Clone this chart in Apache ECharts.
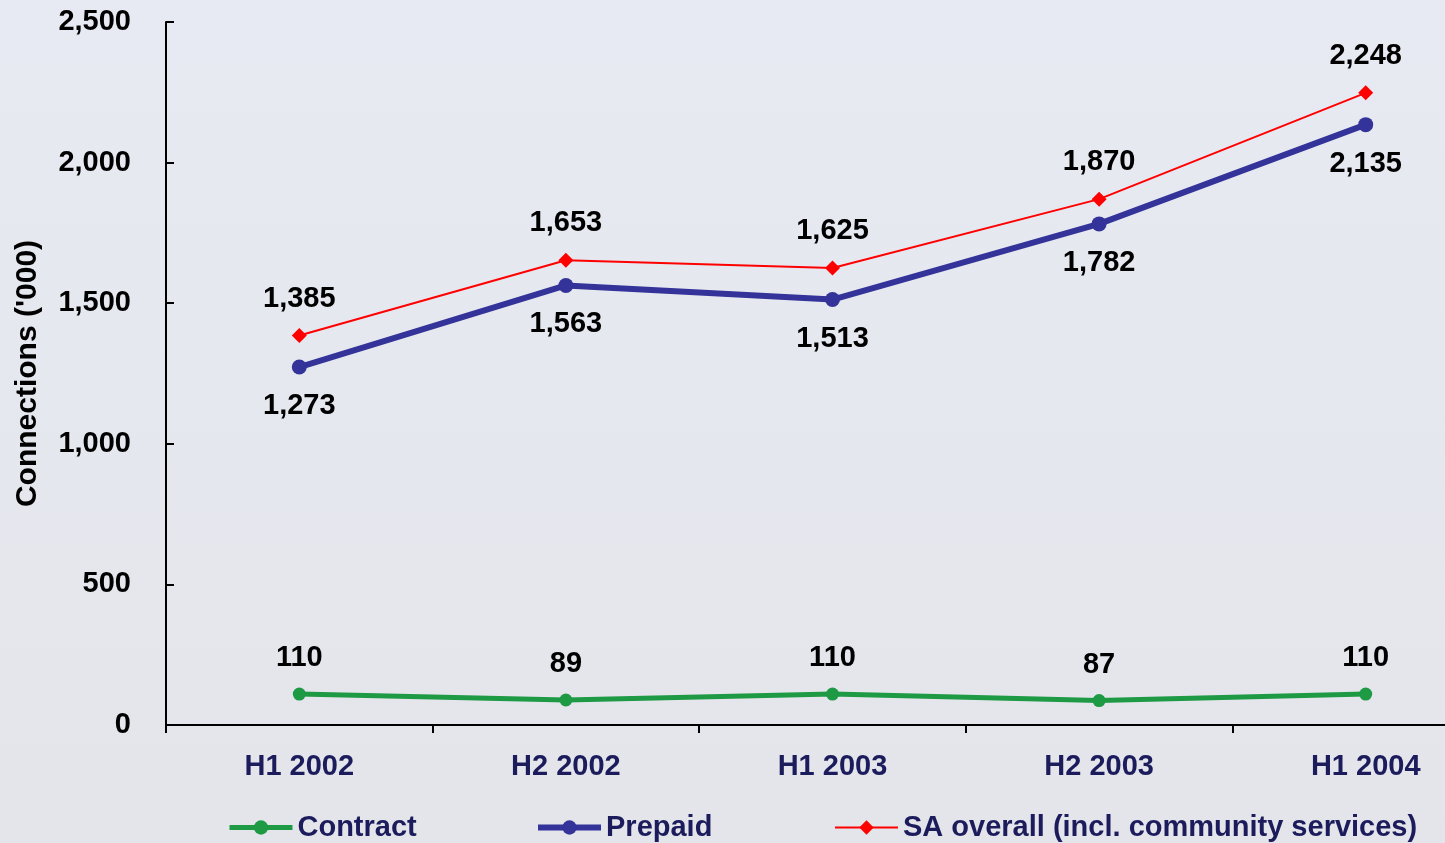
<!DOCTYPE html>
<html>
<head>
<meta charset="utf-8">
<script src="https://cdn.jsdelivr.net/npm/echarts@6/dist/echarts.min.js"></script>
<style>
html,body{margin:0;padding:0;background:#e6e8ef;}
#chart{width:1445px;height:843px;}
</style>
</head>
<body>
<div id="chart"></div>
<script>
const categories = ['H1 2002', 'H2 2002', 'H1 2003', 'H2 2003', 'H1 2004'];
const contract = [110, 89, 110, 87, 110];
const prepaid = [1273, 1563, 1513, 1782, 2135];
const saOverall = [1385, 1653, 1625, 1870, 2248];
const yTicks = { min: 0, max: 2500, interval: 500 };

const FONT = '"Liberation Sans", Arial, sans-serif';
const NAVY = '#1c1c5c';
const GREEN = '#1e9944', BLUE = '#333399', RED = '#ff0000';
const chart = echarts.init(document.getElementById('chart'));
const labelStyle = { show: true, fontSize: 29, fontWeight: 'bold', color: '#000', fontFamily: FONT,
  formatter: p => p.value.toLocaleString('en-US') };
const legendBase = { top: 808, itemWidth: 63, itemHeight: 18, itemGap: 6,
  textStyle: { fontSize: 29, fontWeight: 'bold', color: NAVY, fontFamily: FONT } };

chart.setOption({
  backgroundColor: {
    type: 'linear', x: 0, y: 0, x2: 0, y2: 1,
    colorStops: [{ offset: 0, color: '#e8eaf3' }, { offset: 1, color: '#e3e5ea' }]
  },
  textStyle: { fontFamily: FONT },
  animation: false,
  grid: { left: 166, right: -54, top: 22, bottom: 118, containLabel: false, outerBoundsMode: 'none' },
  legend: [
    Object.assign({ left: 222, data: [{ name: 'Contract', lineStyle: { width: 5, color: GREEN } }] }, legendBase),
    Object.assign({ left: 530, data: [{ name: 'Prepaid', lineStyle: { width: 6, color: BLUE } }] }, legendBase),
    Object.assign({ left: 829, data: [{ name: 'SA overall (incl. community services)', lineStyle: { width: 2, color: RED } }] }, legendBase)
  ],
  xAxis: {
    type: 'category', data: categories, boundaryGap: true,
    axisLine: { lineStyle: { color: '#000', width: 2 } },
    axisTick: { show: true, length: 8, inside: false, lineStyle: { color: '#000', width: 2 } },
    axisLabel: { fontSize: 29, fontWeight: 'bold', color: NAVY, margin: 27, fontFamily: FONT }
  },
  yAxis: {
    type: 'value', min: yTicks.min, max: yTicks.max, interval: yTicks.interval,
    name: "Connections ('000)", nameLocation: 'middle', nameGap: 123,
    nameTextStyle: { fontSize: 30, fontWeight: 'bold', color: '#000', fontFamily: FONT },
    axisLine: { show: true, lineStyle: { color: '#000', width: 2 } },
    axisTick: { show: true, inside: true, length: 8, lineStyle: { color: '#000', width: 2 } },
    splitLine: { show: false },
    axisLabel: { fontSize: 29, fontWeight: 'bold', color: '#000', margin: 35, fontFamily: FONT,
      formatter: v => v.toLocaleString('en-US') }
  },
  series: [
    { name: 'Contract', type: 'line', data: contract, color: GREEN,
      symbol: 'circle', symbolSize: 13, lineStyle: { width: 5, color: GREEN },
      itemStyle: { color: GREEN },
      label: Object.assign({ position: 'top', distance: 15 }, labelStyle) },
    { name: 'Prepaid', type: 'line', data: prepaid, color: BLUE,
      symbol: 'circle', symbolSize: 15, lineStyle: { width: 6, color: BLUE },
      itemStyle: { color: BLUE },
      label: Object.assign({ position: 'bottom', distance: 17 }, labelStyle) },
    { name: 'SA overall (incl. community services)', type: 'line', data: saOverall, color: RED,
      symbol: 'diamond', symbolSize: 15, lineStyle: { width: 2, color: RED },
      itemStyle: { color: RED },
      label: Object.assign({ position: 'top', distance: 15 }, labelStyle) }
  ]
});
</script>
</body>
</html>
